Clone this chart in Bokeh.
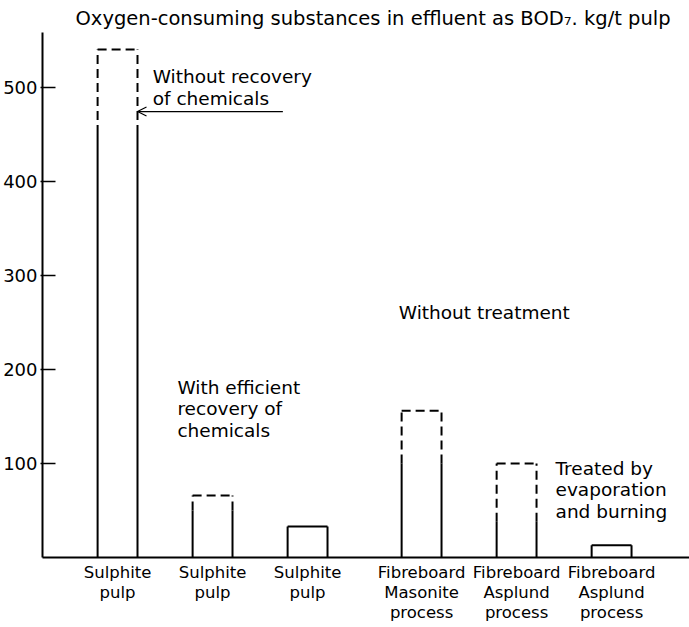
from bokeh.plotting import figure
from bokeh.models import FixedTicker, Label, Arrow, OpenHead, Range1d
from bokeh.embed import file_html
from bokeh.resources import INLINE

# ---- data ----
categories = ["Sulphite\npulp", "Sulphite\npulp", "Sulphite\npulp",
              "Fibreboard\nMasonite\nprocess", "Fibreboard\nAsplund\nprocess",
              "Fibreboard\nAsplund\nprocess"]
groups = ["Sulphite", "Sulphite", "Sulphite", "Fibreboard", "Fibreboard", "Fibreboard"]
bod_high = [540, 66, 33, 156, 100, 13]   # top of bar (dashed part upper end)
bod_low = [450, 50, 33, 100, 38, 13]     # solid part upper end
y_ticks = [100, 200, 300, 400, 500]

FONT = "DejaVu Sans"
GAP = 0.2
W = 0.42

xs = []
for i, g in enumerate(groups):
    xs.append(i + 1 + (GAP if g == "Fibreboard" else 0))

p = figure(width=689, height=627, output_backend="svg", toolbar_location=None,
           x_range=Range1d(0.21, 7.02), y_range=Range1d(0, 558),
           min_border_left=42, min_border_right=0, min_border_top=32, min_border_bottom=70,
           title="Oxygen-consuming substances in effluent as BOD\u2087. kg/t pulp")
p.title.text_font = FONT
p.title.text_font_size = "19.5px"
p.title.text_font_style = "normal"
p.title.text_color = "black"
p.title.align = "left"
p.title.offset = 33
p.title.standoff = 5
p.outline_line_color = None
p.xgrid.visible = False
p.ygrid.visible = False
p.background_fill_color = "white"

# bar outlines
sx0, sy0, sx1, sy1 = [], [], [], []
dx0, dy0, dx1, dy1 = [], [], [], []
for x, lo, hi in zip(xs, bod_low, bod_high):
    l, r = x - W / 2, x + W / 2
    for e in (l, r):
        sx0.append(e); sy0.append(0); sx1.append(e); sy1.append(lo)
        if hi > lo:
            dx0.append(e); dy0.append(lo); dx1.append(e); dy1.append(hi)
    if hi > lo:
        dx0.append(l); dy0.append(hi); dx1.append(r); dy1.append(hi)
    else:
        sx0.append(l); sy0.append(hi); sx1.append(r); sy1.append(hi)

p.segment(sx0, sy0, sx1, sy1, line_color="black", line_width=2)
p.segment(dx0, dy0, dx1, dy1, line_color="black", line_width=2, line_dash="9 5")

# axes
p.xaxis.ticker = FixedTicker(ticks=xs)
p.xaxis.major_label_overrides = {x: c for x, c in zip(xs, categories)}
p.xaxis.major_tick_line_color = None
p.xaxis.major_tick_in = 0
p.xaxis.major_tick_out = 0
p.xaxis.minor_tick_line_color = None
p.xaxis.axis_line_width = 2
p.xaxis.major_label_standoff = 5
p.xaxis.major_label_text_font = FONT
p.xaxis.major_label_text_font_size = "16.5px"
p.xaxis.major_label_text_color = "black"
p.xaxis.major_label_text_line_height = 1.06

p.yaxis.ticker = FixedTicker(ticks=y_ticks)
p.yaxis.axis_line_width = 2
p.yaxis.major_tick_in = 13
p.yaxis.major_tick_out = 2
p.yaxis.major_tick_line_width = 1.5
p.yaxis.minor_tick_line_color = None
p.yaxis.major_label_standoff = 3
p.yaxis.major_label_text_font = FONT
p.yaxis.major_label_text_font_size = "18px"
p.yaxis.major_label_text_color = "black"

# texts
def lab(x, y, t, size="18.5px", lh=1.02):
    p.add_layout(Label(x=x, y=y, text=t, text_font=FONT, text_font_size=size,
                       text_baseline="top", text_align="left", text_color="black",
                       text_line_height=lh))

lab(1.37, 522, "Without recovery\nof chemicals")
lab(1.63, 192, "With efficient\nrecovery of\nchemicals")
lab(3.96, 272, "Without treatment")
lab(5.61, 106, "Treated by\nevaporation\nand burning")

p.add_layout(Arrow(end=OpenHead(size=9, line_width=1.2), x_start=2.74, y_start=474,
                   x_end=xs[0] + W / 2, y_end=474, line_width=1.2))

open("out.html", "w").write(file_html(p, INLINE))
